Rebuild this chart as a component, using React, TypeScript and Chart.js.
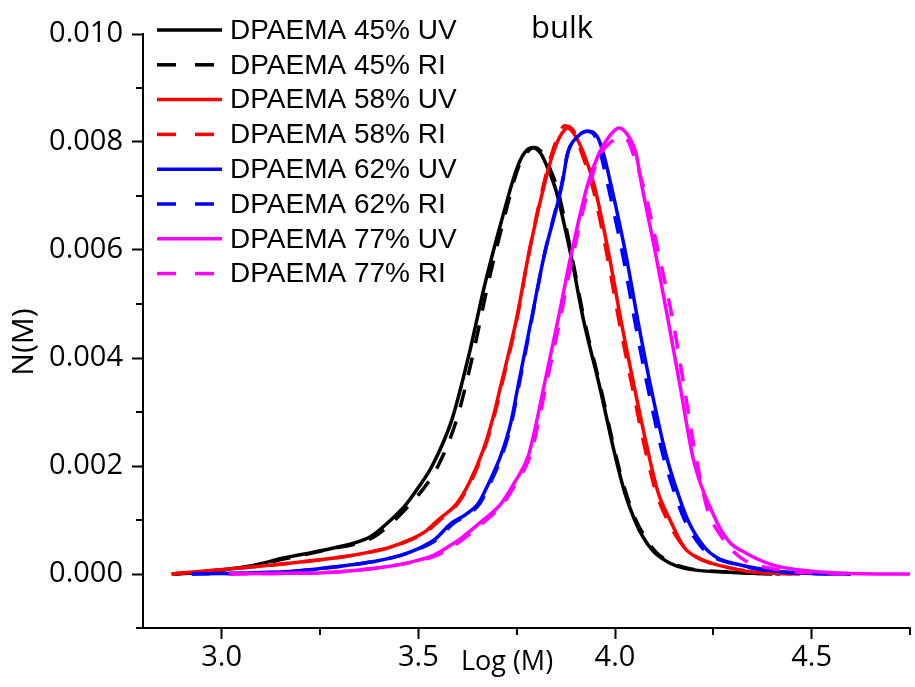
import React, { useEffect, useRef } from "react";
import { Chart, registerables } from "chart.js";

Chart.register(...registerables);

// ---- data ----
const seriesNames = [
  "DPAEMA 45% UV",
  "DPAEMA 45% RI",
  "DPAEMA 58% UV",
  "DPAEMA 58% RI",
  "DPAEMA 62% UV",
  "DPAEMA 62% RI",
  "DPAEMA 77% UV",
  "DPAEMA 77% RI",
];
const seriesColors = ["#000000", "#000000", "#ff0000", "#ff0000", "#0000ff", "#0000ff", "#ff00ff", "#ff00ff"];
const seriesDashed = [false, true, false, true, false, true, false, true];

const uv45: number[][] = [
  [2.873, 0], [2.93, 0.00003], [2.99, 0.00007], [3.08, 0.00016], [3.16, 0.0003], [3.23, 0.0004],
  [3.29, 0.00049], [3.34, 0.00058], [3.38, 0.0007], [3.43, 0.001], [3.47, 0.0013], [3.5, 0.0016],
  [3.535, 0.002], [3.585, 0.00285], [3.63, 0.0041], [3.667, 0.0053], [3.71, 0.0065], [3.75, 0.0075],
  [3.77, 0.0078], [3.79, 0.0079], [3.81, 0.0078], [3.83, 0.0075], [3.85, 0.0071], [3.888, 0.0059],
  [3.92, 0.0047], [3.96, 0.0035], [4.0, 0.0022], [4.025, 0.0015], [4.05, 0.001], [4.07, 0.0007],
  [4.1, 0.0004], [4.14, 0.0002], [4.18, 0.0001], [4.3, 0.00003], [4.4, 0],
];
const ri45: number[][] = [
  [2.88, 0], [2.93, 0.00002], [2.99, 0.00006], [3.08, 0.00015], [3.16, 0.00028], [3.23, 0.00039],
  [3.29, 0.00048], [3.34, 0.00056], [3.39, 0.0007], [3.44, 0.001], [3.48, 0.0013], [3.515, 0.0016],
  [3.55, 0.002], [3.597, 0.00285], [3.64, 0.0041], [3.675, 0.0053], [3.715, 0.0065], [3.753, 0.0075],
  [3.775, 0.0078], [3.795, 0.0079], [3.815, 0.0078], [3.835, 0.0075], [3.855, 0.0071], [3.89, 0.0059],
  [3.922, 0.0047], [3.962, 0.0035], [4.002, 0.0022], [4.028, 0.0015], [4.053, 0.001], [4.075, 0.0007],
  [4.105, 0.0004], [4.145, 0.0002], [4.19, 0.0001], [4.3, 0.00003], [4.42, 0],
];
const uv58: number[][] = [
  [2.873, 0], [2.95, 0.00005], [3.076, 0.00013], [3.16, 0.00019], [3.246, 0.00026], [3.31, 0.00032],
  [3.373, 0.0004], [3.43, 0.0005], [3.48, 0.00064], [3.52, 0.0008], [3.55, 0.001], [3.597, 0.0013],
  [3.63, 0.0017], [3.665, 0.0023], [3.69, 0.0029], [3.71, 0.0035], [3.749, 0.0047], [3.78, 0.0059],
  [3.82, 0.0072], [3.843, 0.0078], [3.86, 0.0081], [3.88, 0.00826], [3.9, 0.0081], [3.92, 0.0078],
  [3.947, 0.0072], [3.985, 0.0059], [4.015, 0.0047], [4.048, 0.0035], [4.086, 0.0022], [4.11, 0.0015],
  [4.14, 0.001], [4.175, 0.0005], [4.21, 0.0003], [4.245, 0.0002], [4.3, 0.0001], [4.345, 0.00004],
  [4.45, 0],
];
const ri58: number[][] = [
  [2.873, 0], [2.95, 0.00005], [3.076, 0.00013], [3.16, 0.00019], [3.246, 0.00026], [3.31, 0.00032],
  [3.373, 0.0004], [3.43, 0.0005], [3.48, 0.00063], [3.52, 0.00078], [3.555, 0.001], [3.6, 0.0013],
  [3.633, 0.0017], [3.667, 0.0023], [3.692, 0.0029], [3.712, 0.0035], [3.75, 0.0047], [3.78, 0.0059],
  [3.818, 0.0072], [3.84, 0.0078], [3.855, 0.0081], [3.872, 0.0083], [3.895, 0.0082], [3.915, 0.0078],
  [3.942, 0.0072], [3.98, 0.0059], [4.01, 0.0047], [4.043, 0.0035], [4.08, 0.0022], [4.105, 0.0015],
  [4.133, 0.001], [4.165, 0.0006], [4.2, 0.00035], [4.245, 0.0002], [4.3, 0.0001], [4.35, 0.00004],
  [4.47, 0],
];
const uv62: number[][] = [
  [2.924, 0], [3.0, 0.00001], [3.16, 0.00004], [3.25, 0.0001], [3.33, 0.00017], [3.4, 0.00025],
  [3.457, 0.00035], [3.5, 0.00047], [3.54, 0.00063], [3.584, 0.00094], [3.62, 0.0011], [3.652, 0.0013],
  [3.68, 0.0017], [3.71, 0.0022], [3.735, 0.0028], [3.754, 0.0035], [3.787, 0.0047], [3.82, 0.0059],
  [3.865, 0.0072], [3.88, 0.0078], [3.905, 0.0081], [3.93, 0.0082], [3.955, 0.0081], [3.97, 0.0078],
  [3.99, 0.0072], [4.028, 0.0059], [4.058, 0.0047], [4.09, 0.0035], [4.13, 0.0022], [4.155, 0.0016],
  [4.185, 0.001], [4.227, 0.0005], [4.26, 0.0003], [4.3, 0.0002], [4.39, 0.00007], [4.5, 0.00001],
  [4.6, 0],
];
const ri62: number[][] = [
  [2.924, 0], [3.0, 0.00001], [3.16, 0.00004], [3.25, 0.0001], [3.33, 0.00017], [3.4, 0.00025],
  [3.457, 0.00035], [3.5, 0.00046], [3.545, 0.00063], [3.59, 0.00094], [3.625, 0.0011], [3.656, 0.0013],
  [3.684, 0.0017], [3.713, 0.0022], [3.737, 0.0028], [3.756, 0.0035], [3.788, 0.0047], [3.82, 0.0059],
  [3.864, 0.0072], [3.88, 0.0078], [3.905, 0.0081], [3.928, 0.0082], [3.95, 0.0081], [3.963, 0.0078],
  [3.982, 0.0072], [4.02, 0.0059], [4.05, 0.0047], [4.082, 0.0035], [4.122, 0.0022], [4.147, 0.0016],
  [4.177, 0.001], [4.22, 0.0005], [4.255, 0.0003], [4.3, 0.00019], [4.39, 0.00006], [4.5, 0.00001],
  [4.6, 0],
];
const uv77: number[][] = [
  [3.018, 0], [3.12, 0.00001], [3.246, 0.00002], [3.33, 0.00006], [3.414, 0.00013], [3.48, 0.00022],
  [3.54, 0.00035], [3.584, 0.00054], [3.61, 0.00067], [3.66, 0.00097], [3.71, 0.0013], [3.745, 0.0017],
  [3.78, 0.0022], [3.8, 0.0028], [3.82, 0.0035], [3.855, 0.0047], [3.888, 0.0059], [3.93, 0.0072],
  [3.96, 0.0078], [3.985, 0.0081], [4.01, 0.00826], [4.035, 0.0081], [4.053, 0.0078], [4.068, 0.0072],
  [4.104, 0.0059], [4.135, 0.0047], [4.165, 0.0035], [4.2, 0.0021], [4.25, 0.0011], [4.29, 0.0006],
  [4.33, 0.0004], [4.4, 0.00017], [4.5, 0.00005], [4.6, 0.00001], [4.75, 0],
];
const ri77: number[][] = [
  [3.02, 0], [3.12, 0.00001], [3.246, 0.00002], [3.33, 0.00006], [3.414, 0.00013], [3.48, 0.00021],
  [3.545, 0.00034], [3.59, 0.00052], [3.615, 0.00065], [3.665, 0.00095], [3.715, 0.0013], [3.75, 0.0017],
  [3.785, 0.0022], [3.805, 0.0028], [3.825, 0.0035], [3.86, 0.0047], [3.893, 0.0059], [3.935, 0.0072],
  [3.965, 0.0078], [3.99, 0.008], [4.015, 0.0081], [4.035, 0.008], [4.045, 0.0078], [4.075, 0.0071],
  [4.112, 0.0059], [4.147, 0.0047], [4.175, 0.0035], [4.205, 0.0022], [4.235, 0.0012], [4.27, 0.0007],
  [4.32, 0.0003], [4.4, 0.0001], [4.5, 0.00002], [4.62, 0],
];
const seriesData = [uv45, ri45, uv58, ri58, uv62, ri62, uv77, ri77];

const xMajorTicks = [3.0, 3.5, 4.0, 4.5];
const xMinorTicks = [3.25, 3.75, 4.25, 4.75];
const yMajorTicks = [0, 0.002, 0.004, 0.006, 0.008, 0.01];
const yMinorTicks = [-0.001, 0.001, 0.003, 0.005, 0.007, 0.009];

const chartTitle = "bulk";
const xTitle = "Log (M)";
const yTitle = "N(M)";

const TICK_FONT = "'Open Sans', 'DejaVu Sans', sans-serif";
const LEGEND_FONT = "'Liberation Sans', Arial, sans-serif";

const overlayPlugin = {
  id: "overlay",
  afterDraw(chart: any) {
    const ctx: CanvasRenderingContext2D = chart.ctx;
    const xs = chart.scales.x;
    const ys = chart.scales.y;
    const area = chart.chartArea;
    ctx.save();
    // minor ticks
    ctx.strokeStyle = "#000";
    ctx.lineWidth = 2;
    ctx.setLineDash([]);
    for (const v of xMinorTicks) {
      const px = Math.round(xs.getPixelForValue(v));
      ctx.beginPath();
      ctx.moveTo(px, area.bottom);
      ctx.lineTo(px, area.bottom + 7);
      ctx.stroke();
    }
    for (const v of yMinorTicks) {
      const py = Math.round(ys.getPixelForValue(v));
      ctx.beginPath();
      ctx.moveTo(area.left, py);
      ctx.lineTo(area.left - 7, py);
      ctx.stroke();
    }
    // legend
    const lx0 = area.left + 14;
    const lx1 = lx0 + 65;
    const ltx = lx1 + 8;
    const ly0 = 30;
    const ldy = 34.8;
    ctx.font = `28px ${LEGEND_FONT}`;
    ctx.textBaseline = "middle";
    ctx.textAlign = "left";
    seriesNames.forEach((name, i) => {
      const y = ly0 + i * ldy;
      ctx.strokeStyle = seriesColors[i];
      ctx.lineWidth = 3.5;
      ctx.setLineDash(seriesDashed[i] ? [19, 19] : []);
      ctx.beginPath();
      ctx.moveTo(lx0, y);
      ctx.lineTo(lx1, y);
      ctx.stroke();
      ctx.setLineDash([]);
      ctx.fillStyle = "#000";
      ctx.fillText(name, ltx, y + 1);
    });
    // titles
    ctx.fillStyle = "#000";
    ctx.textAlign = "center";
    ctx.font = `31px ${TICK_FONT}`;
    ctx.fillText(chartTitle, 562, 29);
    ctx.font = `27px ${TICK_FONT}`;
    ctx.fillText(xTitle, 507, 662);
    ctx.translate(24, 342);
    ctx.rotate(-Math.PI / 2);
    ctx.font = `30px ${TICK_FONT}`;
    ctx.fillText(yTitle, 0, 0);
    ctx.restore();
  },
};

export default function App() {
  const ref = useRef<HTMLCanvasElement | null>(null);
  useEffect(() => {
    const canvas = ref.current;
    if (!canvas) return;
    const datasets = seriesData.map((d, i) => ({
      label: seriesNames[i],
      data: d.map(([x, y]) => ({ x, y })),
      borderColor: seriesColors[i],
      backgroundColor: seriesColors[i],
      borderWidth: 3.5,
      borderDash: seriesDashed[i] ? [18, 15] : [],
      pointRadius: 0,
      fill: false,
      cubicInterpolationMode: "monotone" as const,
      order: seriesData.length - i,
    }));
    const chart = new Chart(canvas, {
      type: "line",
      data: { datasets },
      options: {
        responsive: false,
        animation: false,
        events: [],
        layout: { padding: { left: 0, right: 5, top: 34, bottom: 0 } },
        plugins: {
          legend: { display: false },
          tooltip: { enabled: false },
          title: { display: false },
        },
        scales: {
          x: {
            type: "linear",
            min: 2.8,
            max: 4.75,
            afterBuildTicks: (s: any) => {
              s.ticks = xMajorTicks.map((v) => ({ value: v }));
            },
            afterFit: (s: any) => {
              s.height = 59;
            },
            grid: {
              drawOnChartArea: false,
              drawTicks: true,
              tickLength: 11,
              tickWidth: 2,
              tickColor: "#000",
            },
            border: { display: true, color: "#000", width: 2 },
            ticks: {
              color: "#000",
              font: { size: 29, family: TICK_FONT },
              padding: 1,
              maxRotation: 0,
              autoSkip: false,
              callback: (v: any) => Number(v).toFixed(1),
            },
          },
          y: {
            type: "linear",
            min: -0.001,
            max: 0.01,
            afterBuildTicks: (s: any) => {
              s.ticks = yMajorTicks.map((v) => ({ value: v }));
            },
            afterFit: (s: any) => {
              s.width = 143;
            },
            grid: {
              drawOnChartArea: false,
              drawTicks: true,
              tickLength: 11,
              tickWidth: 2,
              tickColor: "#000",
            },
            border: { display: true, color: "#000", width: 2 },
            ticks: {
              color: "#000",
              font: { size: 29, family: TICK_FONT },
              padding: 9,
              autoSkip: false,
              callback: (v: any) => Number(v).toFixed(3),
            },
          },
        },
      },
      plugins: [overlayPlugin],
    } as any);
    return () => chart.destroy();
  }, []);
  return (
    <div style={{ position: "absolute", left: 0, top: 0, width: 915, height: 687, background: "#fff" }}>
      <canvas ref={ref} width={915} height={687} style={{ display: "block" }} />
    </div>
  );
}
